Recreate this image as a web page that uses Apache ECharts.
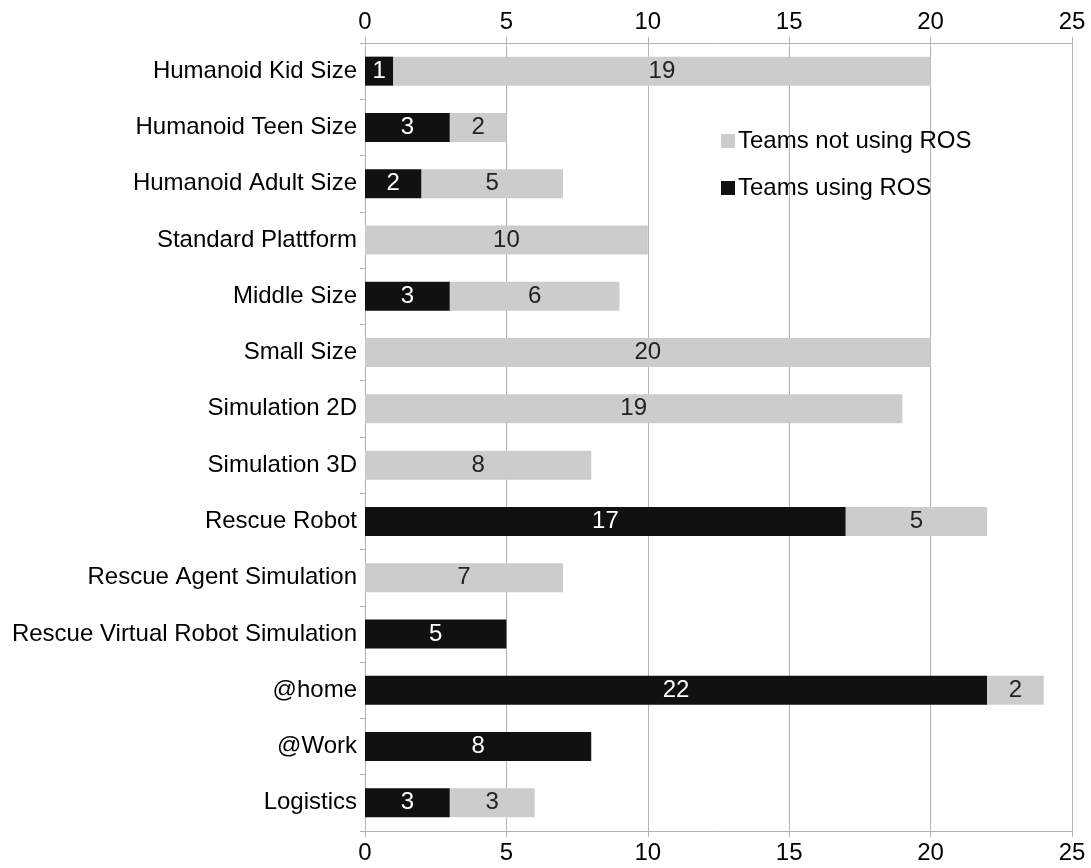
<!DOCTYPE html>
<html>
<head>
<meta charset="utf-8">
<script src="https://cdn.jsdelivr.net/npm/echarts@6/dist/echarts.min.js"></script>
<style>
  html, body { margin: 0; padding: 0; background: #fff; }
  #main { width: 1091px; height: 868px; }
</style>
</head>
<body>
<div id="main"></div>
<script>
  var categories = [
    'Humanoid Kid Size', 'Humanoid Teen Size', 'Humanoid Adult Size', 'Standard Plattform',
    'Middle Size', 'Small Size', 'Simulation 2D', 'Simulation 3D', 'Rescue Robot',
    'Rescue Agent Simulation', 'Rescue Virtual Robot Simulation', '@home', '@Work', 'Logistics'
  ]
  var usingRos = [1, 3, 2, 0, 3, 0, 0, 0, 17, 0, 5, 22, 8, 3]
  var notUsingRos = [19, 2, 5, 10, 6, 20, 19, 8, 5, 7, 0, 2, 0, 3]

  var myChart = echarts.init(document.getElementById('main'))
  var font = 'Liberation Sans, Arial, sans-serif'
  var gridColor = '#b3b3b3'
  var fs = 24

  function hideZero(p) {
    return p.value ? p.value : ''
  }

  function xAxisOf(pos, showSplit) {
    return {
      type: 'value',
      position: pos,
      min: 0,
      max: 25,
      interval: 5,
      axisLine: { show: true, lineStyle: { color: gridColor, width: 1 } },
      axisTick: { show: true, length: 6, lineStyle: { color: gridColor } },
      axisLabel: { color: '#000', fontSize: fs, fontFamily: font, margin: pos === 'top' ? 9 : 10 },
      splitLine: { show: showSplit, lineStyle: { color: gridColor, width: 1 } }
    }
  }

  var option = {
    animation: false,
    backgroundColor: '#fff',
    grid: { left: 365, right: 19, top: 43, bottom: 37, containLabel: false },
    legend: {
      orient: 'vertical',
      left: 716,
      top: 124,
      itemWidth: 14,
      itemHeight: 14,
      itemGap: 23,
      icon: 'rect',
      textStyle: { fontSize: fs, fontFamily: font, color: '#000', padding: [0, 0, 0, -2] },
      data: ['Teams not using ROS', 'Teams using ROS']
    },
    xAxis: [xAxisOf('bottom', true), xAxisOf('top', false)],
    yAxis: {
      type: 'category',
      inverse: true,
      data: categories,
      axisLine: { show: true, lineStyle: { color: gridColor } },
      axisTick: { show: true, length: 5, alignWithLabel: false, lineStyle: { color: gridColor } },
      axisLabel: { color: '#000', fontSize: fs, fontFamily: font, margin: 8 }
    },
    series: [
      {
        name: 'Teams using ROS',
        type: 'bar',
        stack: 'total',
        barWidth: 29,
        itemStyle: { color: '#111111' },
        label: { show: true, position: 'inside', color: '#fff', fontSize: fs, fontFamily: font, formatter: hideZero },
        data: usingRos
      },
      {
        name: 'Teams not using ROS',
        type: 'bar',
        stack: 'total',
        barWidth: 29,
        itemStyle: { color: '#cccccc' },
        label: { show: true, position: 'inside', color: '#222', fontSize: fs, fontFamily: font, formatter: hideZero },
        data: notUsingRos
      }
    ]
  }

  myChart.setOption(option)
  window.addEventListener('resize', function () {
    myChart.resize()
  })
</script>
</body>
</html>
